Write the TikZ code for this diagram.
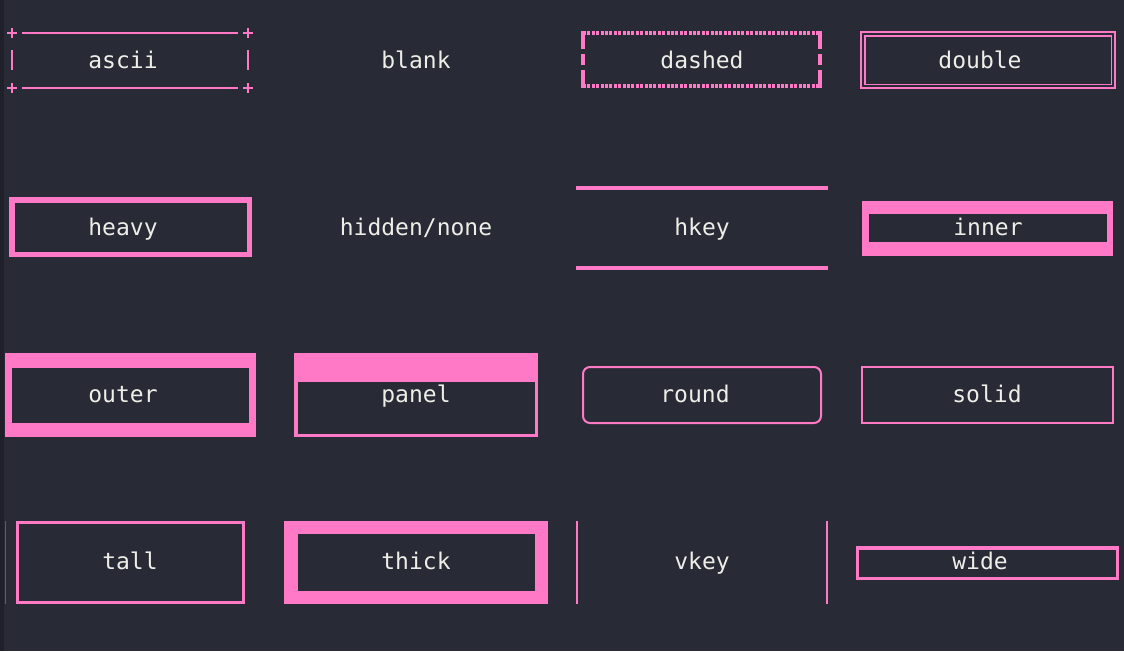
\documentclass[tikz,border=0pt]{standalone}
\usepackage{fontspec}
\setmonofont{DejaVu Sans Mono}
\definecolor{bdBack}{HTML}{282A36}
\definecolor{bdEdge}{HTML}{1F2029}
\definecolor{bdPink}{HTML}{FF79C6}
\definecolor{bdText}{HTML}{EEEEE8}
\usepackage{tikz}

\begin{document}
\begin{tikzpicture}[x=1pt, y=-1pt,
  lbl/.style={anchor=base, inner sep=0pt, text=bdText,
    font=\ttfamily\fontsize{23}{26}\selectfont},
  edge/.style={draw=bdPink, line width=#1},
  edge/.default=2pt,
  band/.style={fill=bdPink},
  hole/.style={fill=bdBack}
]
  \fill[bdBack] (0,0) rectangle (1124,651);
  \fill[bdEdge] (0,0) rectangle (4,651);
  \useasboundingbox (0,0) rectangle (1124,651);

  % row 1
  \draw[edge=1.6pt] (22,33) -- (238,33) (22,88) -- (238,88);
  \foreach \cx in {12,248} {
    \foreach \cy in {33,88}
      \draw[edge=1.6pt] (\cx-5,\cy) -- (\cx+5,\cy) (\cx,\cy-5) -- (\cx,\cy+5);
    \draw[edge=1.6pt] (\cx,50) -- (\cx,70);
  }
  \node[lbl] (ascii) at (123,68) {ascii};
  \node[lbl] (blank) at (416,68) {blank};
  \draw[edge=4pt, dash pattern=on 3pt off 1.4pt] (583,33) -- (820,33) (583,86) -- (820,86);
  \draw[edge=4pt, dash pattern=on 18pt off 5pt on 11pt off 5pt on 18pt]
    (583,31) -- (583,88) (820,31) -- (820,88);
  \node[lbl] (dashed) at (702,68) {dashed};
  \draw[edge=1.8pt] (860.9,31.9) rectangle (1115.1,88.1) (864.6,35.6) rectangle (1111.4,84.4);
  \node[lbl] (double) at (980,68) {double};

  % row 2
  \draw[edge=5.5pt] (11.75,199.75) rectangle (249.25,254.25);
  \node[lbl] (heavy) at (123,235) {heavy};
  \node[lbl] (hidden) at (416,235) {hidden/none};
  \draw[edge=3.3pt] (576,188) -- (828,188) (576,268) -- (828,268);
  \node[lbl] (hkey) at (702,235) {hkey};
  \fill[band] (862,201) rectangle (1113,256);
  \fill[hole] (869,214) rectangle (1107,242);
  \node[lbl] (inner) at (988,235) {inner};

  % row 3
  \fill[band] (5,353) rectangle (256,437);
  \fill[hole] (12,368) rectangle (249,423);
  \node[lbl] (outer) at (123,402) {outer};
  \fill[band] (294,353) rectangle (538,437);
  \fill[hole] (297.5,382) rectangle (535,434);
  \node[lbl] (panel) at (416,402) {panel};
  \draw[edge, rounded corners=7pt] (583,367) rectangle (821,423);
  \node[lbl] (round) at (695,402) {round};
  \draw[edge] (862,367) rectangle (1113,423);
  \node[lbl] (solid) at (987,402) {solid};

  % row 4
  \draw[draw=bdPink!40!bdBack, line width=1pt] (5,521) -- (5,604);
  \draw[edge=3pt] (17.5,522.5) rectangle (243.5,602.5);
  \node[lbl] (tall) at (130,569) {tall};
  \fill[band] (284,521) rectangle (548,604);
  \fill[hole] (297.5,534) rectangle (535,591);
  \node[lbl] (thick) at (416,569) {thick};
  \draw[edge] (577,521) -- (577,604) (826.5,521) -- (826.5,604);
  \node[lbl] (vkey) at (702,569) {vkey};
  \draw[edge=3.5pt] (857.25,547.75) rectangle (1117.25,578.25);
  \node[lbl] (wide) at (980,569) {wide};
\end{tikzpicture}
\end{document}
